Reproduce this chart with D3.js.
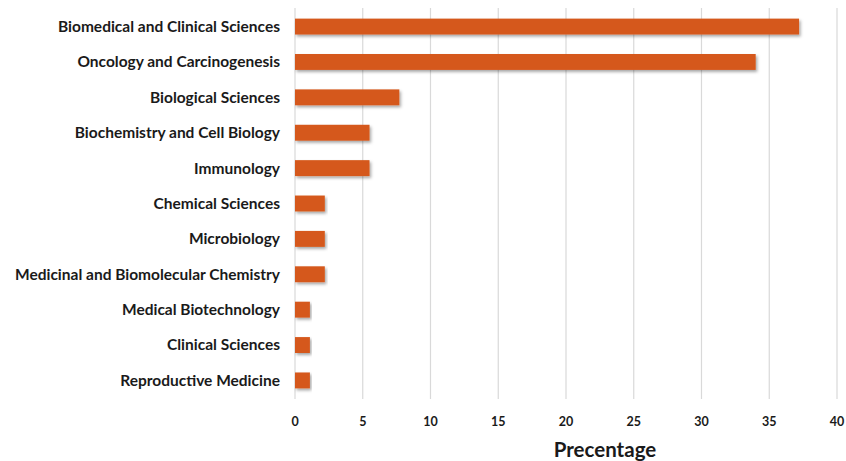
<!DOCTYPE html>
<html><head><meta charset="utf-8">
<script src="https://cdn.jsdelivr.net/npm/d3@7"></script>
<style>
html,body{margin:0;padding:0;background:#fff;}
svg{display:block;}
</style></head>
<body>
<svg id="chart" width="846" height="461"></svg>
<script>
const categories = [
  "Biomedical and Clinical Sciences",
  "Oncology and Carcinogenesis",
  "Biological Sciences",
  "Biochemistry and Cell Biology",
  "Immunology",
  "Chemical Sciences",
  "Microbiology",
  "Medicinal and Biomolecular Chemistry",
  "Medical Biotechnology",
  "Clinical Sciences",
  "Reproductive Medicine"
];
const values = [37.2, 34.0, 7.7, 5.5, 5.5, 2.2, 2.2, 2.2, 1.1, 1.1, 1.1];
const xTicks = [0, 5, 10, 15, 20, 25, 30, 35, 40];
const xTitle = "Precentage";

(function () {
const svg = d3.select("#chart");
const mLeft = 295, mRight = 837, mTop = 8, mBottom = 399;
const font = "Lato, 'Open Sans', sans-serif";

const x = d3.scaleLinear().domain([0, 40]).range([mLeft, mRight]);
const y = d3.scaleBand().domain(categories).range([mTop, mBottom]).paddingInner(0.55).paddingOuter(0.3);

const defs = svg.append("defs");
const f = defs.append("filter").attr("id","sh").attr("x","-5%").attr("y","-30%").attr("width","115%").attr("height","180%");
f.append("feDropShadow").attr("dx",1.5).attr("dy",2).attr("stdDeviation",1.5).attr("flood-color","#000").attr("flood-opacity",0.35);

// gridlines
svg.append("g").selectAll("line").data(xTicks).join("line")
  .attr("x1", d => x(d)).attr("x2", d => x(d))
  .attr("y1", mTop).attr("y2", mBottom)
  .attr("stroke", "#d9d9d9").attr("stroke-width", 1.2);

// bars
svg.append("g").selectAll("rect").data(values).join("rect")
  .attr("x", x(0))
  .attr("y", (d, i) => y(categories[i]))
  .attr("width", d => x(d) - x(0))
  .attr("height", y.bandwidth())
  .attr("fill", "#d5591c")
  .attr("filter", "url(#sh)");

// category labels
svg.append("g").selectAll("text").data(categories).join("text")
  .attr("x", 280)
  .attr("y", d => y(d) + y.bandwidth() / 2)
  .attr("dy", "0.35em")
  .attr("text-anchor", "end")
  .attr("font-family", font)
  .attr("font-weight", "bold")
  .attr("font-size", "15.5px")
  .attr("fill", "#1a1a1a")
  .text(d => d);

// x tick labels
svg.append("g").selectAll("text").data(xTicks).join("text")
  .attr("x", d => x(d))
  .attr("y", 421.5)
  .attr("dy", "0.35em")
  .attr("text-anchor", "middle")
  .attr("font-family", font)
  .attr("font-weight", "bold")
  .attr("font-size", "12.5px")
  .attr("fill", "#1a1a1a")
  .text(d => d);

// axis title
svg.append("text")
  .attr("x", 605).attr("y", 457)
  .attr("text-anchor", "middle")
  .attr("font-family", font)
  .attr("font-weight", "bold")
  .attr("font-size", "20.5px")
  .attr("fill", "#1a1a1a")
  .text(xTitle);
})();
</script>
</body></html>
